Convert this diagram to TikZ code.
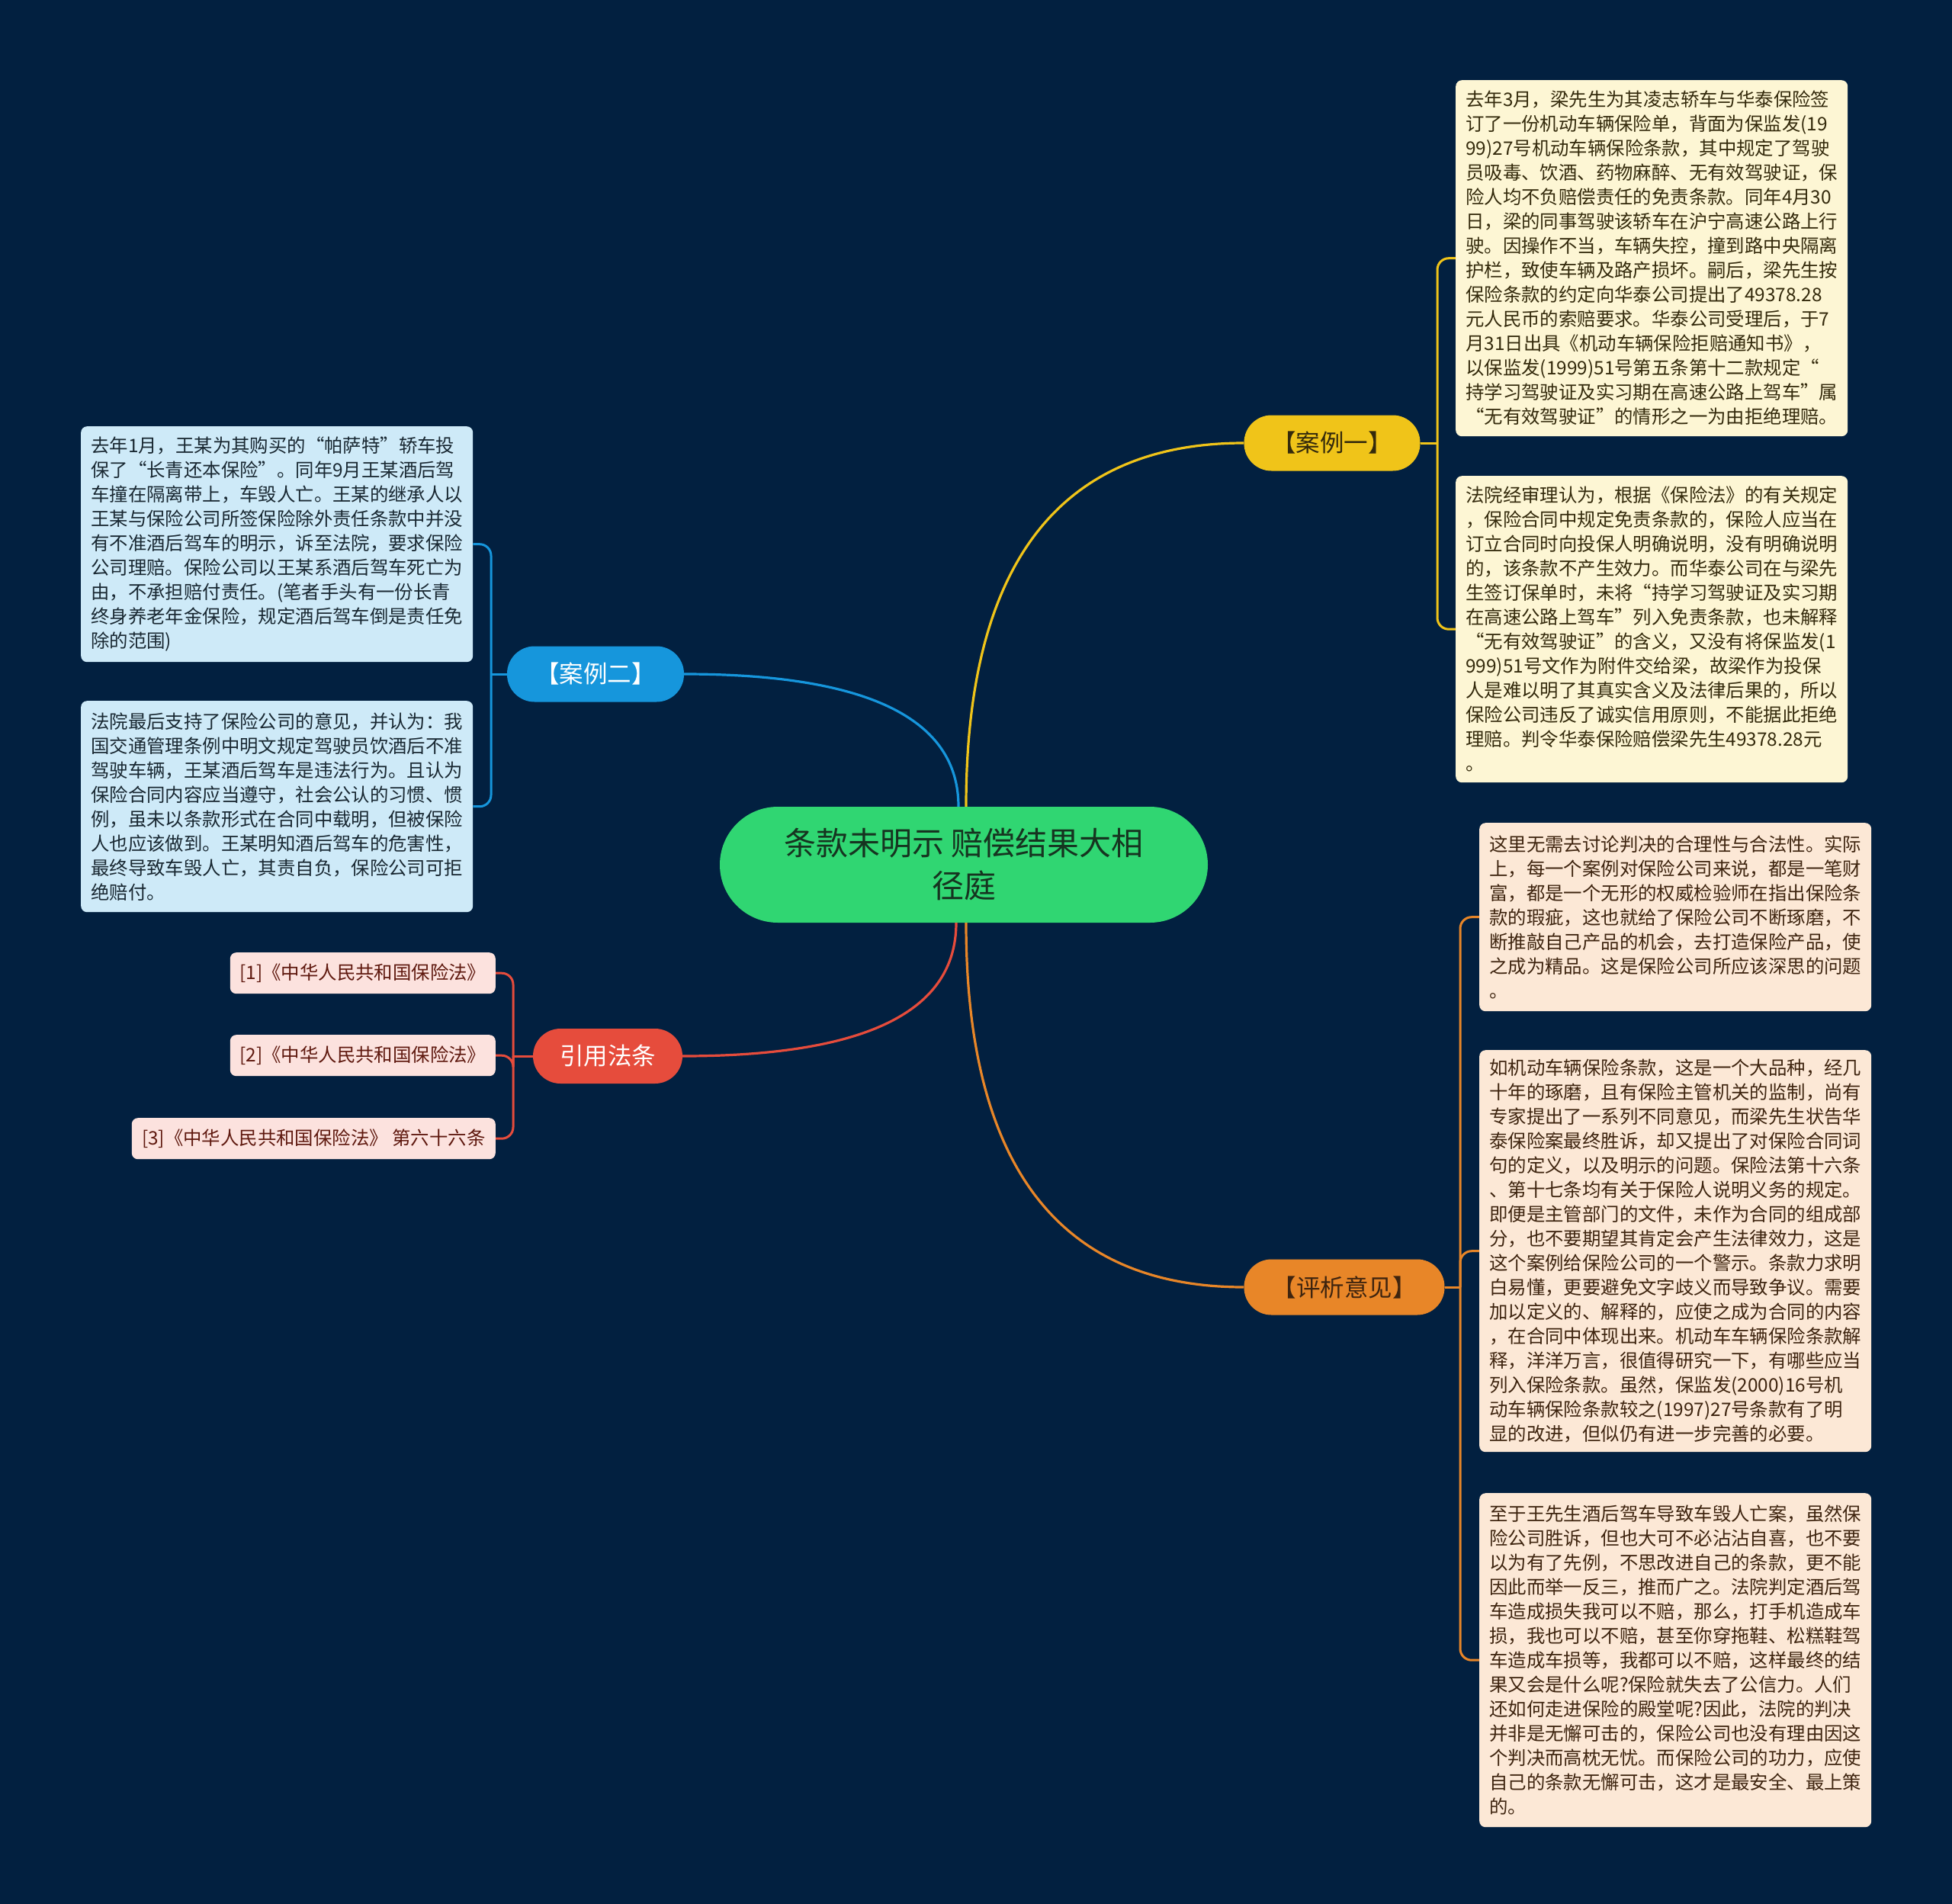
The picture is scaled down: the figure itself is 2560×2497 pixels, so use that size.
\documentclass[tikz,border=0pt]{standalone}
\usepackage{fontspec}
\setmainfont{Noto Sans CJK SC}
\definecolor{bg}{RGB}{2,32,64}
\definecolor{cgreen}{RGB}{48,214,114}
\definecolor{cgtext}{RGB}{22,52,32}
\definecolor{cyel}{RGB}{240,196,25}
\definecolor{cyelbox}{RGB}{253,246,212}
\definecolor{cyeltext}{RGB}{52,42,12}
\definecolor{cblue}{RGB}{22,150,220}
\definecolor{cbluebox}{RGB}{206,234,248}
\definecolor{cbluetext}{RGB}{25,40,50}
\definecolor{cred}{RGB}{230,76,60}
\definecolor{credbox}{RGB}{252,226,222}
\definecolor{credtext}{RGB}{95,25,15}
\definecolor{corg}{RGB}{232,134,40}
\definecolor{corgbox}{RGB}{252,232,214}
\definecolor{corgtext}{RGB}{62,36,15}
\tikzset{
  txtbox/.style={rounded corners=8pt, inner xsep=13pt, inner ysep=0pt, align=left,
    anchor=north west, text width=488pt,
    font=\fontsize{24.4}{32}\selectfont},
  refbox/.style={rounded corners=8pt, inner sep=0pt, align=center, anchor=north east,
    minimum height=54pt, fill=credbox, text=credtext,
    font=\fontsize{24.4}{30}\selectfont},
  branch/.style={rounded corners=36pt, inner sep=0pt, minimum height=73pt,
    font=\fontsize{31.5}{36}\selectfont},
  mainline/.style={line width=3.2pt},
  brline/.style={line width=3pt, rounded corners=15pt},
}
\begin{document}
\begin{tikzpicture}[x=1pt,y=-1pt]
\fill[bg] (0,0) rectangle (2560,2497);
\useasboundingbox (0,0) rectangle (2560,2497);

% central node
\node[fill=cgreen, text=cgtext, rounded corners=76pt, minimum width=640pt, minimum height=152pt,
  inner sep=0pt, align=center, font=\fontsize{42}{56}\selectfont] (C) at (1264,1134)
  {条款未明示 赔偿结果大相\\径庭};

% branch nodes
\node[branch, fill=cyel, text=cyeltext, minimum width=231pt] (b1) at (1747,581) {【案例一】};
\node[branch, fill=cblue, text=white, minimum width=232pt] (b2) at (781,884) {【案例二】};
\node[branch, fill=cred, text=white, minimum width=196pt, minimum height=72pt] (b3) at (797,1385) {引用法条};
\node[branch, fill=corg, text=corgtext, minimum width=263pt] (b4) at (1763,1688) {【评析意见】};

% case one boxes
\node[txtbox, fill=cyelbox, text=cyeltext, minimum height=467pt] (t1) at (1909,105) {%
去年3月，梁先生为其凌志轿车与华泰保险签\\
订了一份机动车辆保险单，背面为保监发(19\\
99)27号机动车辆保险条款，其中规定了驾驶\\
员吸毒、饮酒、药物麻醉、无有效驾驶证，保\\
险人均不负赔偿责任的免责条款。同年4月30\\
日，梁的同事驾驶该轿车在沪宁高速公路上行\\
驶。因操作不当，车辆失控，撞到路中央隔离\\
护栏，致使车辆及路产损坏。嗣后，梁先生按\\
保险条款的约定向华泰公司提出了49378.28\\
元人民币的索赔要求。华泰公司受理后，于7\\
月31日出具《机动车辆保险拒赔通知书》，\\
以保监发(1999)51号第五条第十二款规定“\\
持学习驾驶证及实习期在高速公路上驾车”属\\
“无有效驾驶证”的情形之一为由拒绝理赔。};
\node[txtbox, fill=cyelbox, text=cyeltext, minimum height=402pt] (t2) at (1909,624) {%
法院经审理认为，根据《保险法》的有关规定\\
，保险合同中规定免责条款的，保险人应当在\\
订立合同时向投保人明确说明，没有明确说明\\
的，该条款不产生效力。而华泰公司在与梁先\\
生签订保单时，未将“持学习驾驶证及实习期\\
在高速公路上驾车”列入免责条款，也未解释\\
“无有效驾驶证”的含义，又没有将保监发(1\\
999)51号文作为附件交给梁，故梁作为投保\\
人是难以明了其真实含义及法律后果的，所以\\
保险公司违反了诚实信用原则，不能据此拒绝\\
理赔。判令华泰保险赔偿梁先生49378.28元\\
。};

% case two boxes
\node[txtbox, fill=cbluebox, text=cbluetext, minimum height=309pt] (l1) at (106,559) {%
去年1月，王某为其购买的“帕萨特”轿车投\\
保了“长青还本保险”。同年9月王某酒后驾\\
车撞在隔离带上，车毁人亡。王某的继承人以\\
王某与保险公司所签保险除外责任条款中并没\\
有不准酒后驾车的明示，诉至法院，要求保险\\
公司理赔。保险公司以王某系酒后驾车死亡为\\
由，不承担赔付责任。(笔者手头有一份长青\\
终身养老年金保险，规定酒后驾车倒是责任免\\
除的范围)};
\node[txtbox, fill=cbluebox, text=cbluetext, minimum height=277pt] (l2) at (106,919) {%
法院最后支持了保险公司的意见，并认为：我\\
国交通管理条例中明文规定驾驶员饮酒后不准\\
驾驶车辆，王某酒后驾车是违法行为。且认为\\
保险合同内容应当遵守，社会公认的习惯、惯\\
例，虽未以条款形式在合同中载明，但被保险\\
人也应该做到。王某明知酒后驾车的危害性，\\
最终导致车毁人亡，其责自负，保险公司可拒\\
绝赔付。};

% references
\node[refbox, minimum width=348pt] (r1) at (650,1249) {[1]《中华人民共和国保险法》};
\node[refbox, minimum width=348pt] (r2) at (650,1357) {[2]《中华人民共和国保险法》};
\node[refbox, minimum width=477pt] (r3) at (650,1466) {[3]《中华人民共和国保险法》 第六十六条};

% analysis boxes
\node[txtbox, fill=corgbox, text=corgtext, minimum height=247pt] (p1) at (1940,1079) {%
这里无需去讨论判决的合理性与合法性。实际\\
上，每一个案例对保险公司来说，都是一笔财\\
富，都是一个无形的权威检验师在指出保险条\\
款的瑕疵，这也就给了保险公司不断琢磨，不\\
断推敲自己产品的机会，去打造保险产品，使\\
之成为精品。这是保险公司所应该深思的问题\\
。};
\node[txtbox, fill=corgbox, text=corgtext, minimum height=527pt] (p2) at (1940,1377) {%
如机动车辆保险条款，这是一个大品种，经几\\
十年的琢磨，且有保险主管机关的监制，尚有\\
专家提出了一系列不同意见，而梁先生状告华\\
泰保险案最终胜诉，却又提出了对保险合同词\\
句的定义，以及明示的问题。保险法第十六条\\
、第十七条均有关于保险人说明义务的规定。\\
即便是主管部门的文件，未作为合同的组成部\\
分，也不要期望其肯定会产生法律效力，这是\\
这个案例给保险公司的一个警示。条款力求明\\
白易懂，更要避免文字歧义而导致争议。需要\\
加以定义的、解释的，应使之成为合同的内容\\
，在合同中体现出来。机动车车辆保险条款解\\
释，洋洋万言，很值得研究一下，有哪些应当\\
列入保险条款。虽然，保监发(2000)16号机\\
动车辆保险条款较之(1997)27号条款有了明\\
显的改进，但似仍有进一步完善的必要。};
\node[txtbox, fill=corgbox, text=corgtext, minimum height=438pt] (p3) at (1940,1958) {%
至于王先生酒后驾车导致车毁人亡案，虽然保\\
险公司胜诉，但也大可不必沾沾自喜，也不要\\
以为有了先例，不思改进自己的条款，更不能\\
因此而举一反三，推而广之。法院判定酒后驾\\
车造成损失我可以不赔，那么，打手机造成车\\
损，我也可以不赔，甚至你穿拖鞋、松糕鞋驾\\
车造成车损等，我都可以不赔，这样最终的结\\
果又会是什么呢?保险就失去了公信力。人们\\
还如何走进保险的殿堂呢?因此，法院的判决\\
并非是无懈可击的，保险公司也没有理由因这\\
个判决而高枕无忧。而保险公司的功力，应使\\
自己的条款无懈可击，这才是最安全、最上策\\
的。};

% main connectors
\draw[mainline, cyel] ([xshift=3pt]C.north) .. controls (1267,740) and (1389,581) .. (b1.west);
\draw[mainline, cblue] ([xshift=-7pt]C.north) .. controls (1257,942) and (1137,884) .. (b2.east);
\draw[mainline, cred] ([xshift=-10pt]C.south) .. controls (1254,1327) and (1135,1385) .. (b3.east);
\draw[mainline, corg] ([xshift=3pt]C.south) .. controls (1267,1529) and (1389,1688) .. (b4.west);

% brackets
\coordinate (j1) at (1885,581);
\draw[brline, cyel] (b1.east) -- (j1);
\draw[brline, cyel] (j1) |- (t1.west);
\draw[brline, cyel] (j1) |- (t2.west);

\coordinate (j2) at (644,884);
\draw[brline, cblue] (b2.west) -- (j2);
\draw[brline, cblue] (j2) |- (l1.east);
\draw[brline, cblue] (j2) |- (l2.east);

\coordinate (j3) at (673,1385);
\draw[brline, cred] (b3.west) -- (j3);
\draw[brline, cred] (j3) |- (r1.west -| r1.east);
\draw[brline, cred] (j3) |- (r2.west -| r2.east);
\draw[brline, cred] (j3) |- (r3.west -| r3.east);

\coordinate (j4) at (1915,1688);
\draw[brline, corg] (b4.east) -- (j4);
\draw[brline, corg] (j4) |- (p1.west);
\draw[brline, corg] (j4) |- (p2.west);
\draw[brline, corg] (j4) |- (p3.west);
\end{tikzpicture}
\end{document}
